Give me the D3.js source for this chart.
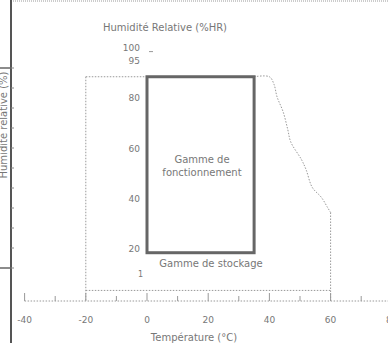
<!DOCTYPE html>
<html>
<head>
<meta charset="utf-8">
<script src="https://cdn.jsdelivr.net/npm/d3@7"></script>
<style>
  body { margin: 0; background: #fff; }
  svg { display: block; font-family: "DejaVu Sans", sans-serif; }
  text { fill: #777; }
</style>
</head>
<body>
<div id="chart"></div>
<script>
// data
var tempTicks = [-40, -20, 0, 20, 40, 60, 80];
var tempMinor = [-40, -30, -20, -10, 0, 10, 20, 30, 40, 50, 60, 70];
var rhTicks = [100, 95, 80, 60, 40, 20];
var rhTickLabels = ["100", "95", "80", "60", "40", "20"];
var rhLowLabel = "1";
var rhLowValue = 10;

// operating range: temp 0..35 C, RH 20..90 %
var operTemp = [0, 35];
var operRH = [20, 90];

// storage range: -20..60 C, 5..90 %RH
var storageTemp = [-20, 60];
var storageRH = [5, 90];
// top-right corner of the storage range, limited by dew point
var dewTemp = [35, 40, 41.5, 42.5, 44.5, 46, 47, 50.5, 52, 54, 57, 59, 60];
var dewRH   = [90, 90, 87,   82,   76,   69, 64, 57,   53, 46, 42, 38, 36];

var outerTicks = [0, 100];
var outerMinor = [0, 10, 20, 30, 40, 50, 60, 70, 80, 90, 100];

var vWidth = 388, vHeight = 343;

var svg = d3.select("#chart")
    .append("svg")
    .attr("width", vWidth)
    .attr("height", vHeight);

// scales
var x = d3.scaleLinear().domain([-40, 80]).range([24.6, 391.8]);
var y = d3.scaleLinear().domain([0, 100]).range([303, 51.6]);
var yOuter = d3.scaleLinear().domain([0, 100]).range([268, 68]);

var dotted = "1.5,1.5";

// frame bits at the top and left
svg.append("line")
    .attr("x1", 11).attr("x2", vWidth)
    .attr("y1", 1).attr("y2", 1)
    .attr("stroke", "#999").attr("stroke-dasharray", "1,1");

var gOuter = svg.append("g").attr("transform", "translate(11,0)");
gOuter.append("line")
    .attr("y1", 0).attr("y2", vHeight)
    .attr("stroke", "#555").attr("stroke-width", 2);
gOuter.selectAll(".omaj").data(outerTicks).enter()
    .append("line")
    .attr("x1", -11).attr("x2", 0)
    .attr("y1", function (d) { return yOuter(d); })
    .attr("y2", function (d) { return yOuter(d); })
    .attr("stroke", "#666").attr("stroke-width", 1.5);
gOuter.selectAll(".omin").data(outerMinor).enter()
    .append("line")
    .attr("x1", 0).attr("x2", 3)
    .attr("y1", function (d) { return yOuter(d); })
    .attr("y2", function (d) { return yOuter(d); })
    .attr("stroke", "#888");
svg.append("text")
    .attr("transform", "translate(7,125) rotate(-90)")
    .attr("text-anchor", "middle")
    .style("font-size", "10px")
    .text("Humidité relative (%)");

// title
svg.append("text")
    .attr("x", 165).attr("y", 31)
    .attr("text-anchor", "middle")
    .style("font-size", "10px")
    .text("Humidité Relative (%HR)");

// storage outline (dotted): left, top, bottom, right edges
var gStore = svg.append("g")
    .attr("fill", "none")
    .attr("stroke", "#999")
    .attr("stroke-dasharray", dotted);
gStore.append("line")
    .attr("x1", x(storageTemp[0])).attr("x2", x(storageTemp[0]))
    .attr("y1", y(storageRH[1])).attr("y2", 301);
gStore.append("line")
    .attr("x1", x(storageTemp[0])).attr("x2", x(dewTemp[0]))
    .attr("y1", y(storageRH[1])).attr("y2", y(storageRH[1]));
gStore.append("line")
    .attr("x1", x(storageTemp[0])).attr("x2", x(storageTemp[1]))
    .attr("y1", y(storageRH[0])).attr("y2", y(storageRH[0]));
gStore.append("line")
    .attr("x1", x(storageTemp[1])).attr("x2", x(storageTemp[1]))
    .attr("y1", y(dewRH[dewRH.length - 1])).attr("y2", 301);

var dewPts = dewTemp.map(function (t, i) { return [t, dewRH[i]]; });
gStore.append("path")
    .datum(dewPts)
    .attr("d", d3.line()
        .x(function (d) { return x(d[0]); })
        .y(function (d) { return y(d[1]); })
        .curve(d3.curveCatmullRom));

// x axis (dotted) along the bottom
var xAxis = svg.append("g").attr("transform", "translate(0,301)");
xAxis.append("line")
    .attr("x1", x(-40)).attr("x2", vWidth)
    .attr("stroke", "#999").attr("stroke-dasharray", dotted);
xAxis.selectAll(".xt").data(tempMinor).enter()
    .append("line")
    .attr("x1", function (d) { return x(d); })
    .attr("x2", function (d) { return x(d); })
    .attr("y1", 0).attr("y2", function (d) { return d % 20 === 0 ? -8 : -5; })
    .attr("stroke", "#999");
xAxis.selectAll(".xl").data(tempTicks).enter()
    .append("text")
    .attr("x", function (d) { return x(d); })
    .attr("y", 22)
    .attr("text-anchor", "middle")
    .style("font-size", "9px")
    .text(function (d) { return d; });
svg.append("text")
    .attr("x", 194).attr("y", 341)
    .attr("text-anchor", "middle")
    .style("font-size", "10px")
    .text("Température (°C)");

// y tick labels
svg.selectAll(".yl").data(rhTicks).enter()
    .append("text")
    .attr("x", 140)
    .attr("y", function (d) { return y(d) - 0.5; })
    .attr("text-anchor", "end")
    .style("font-size", "9px")
    .text(function (d, i) { return rhTickLabels[i]; });
svg.append("text")
    .attr("x", 143).attr("y", y(rhLowValue) - 1)
    .attr("text-anchor", "end")
    .style("font-size", "8px")
    .text(rhLowLabel);
svg.append("line")
    .attr("x1", 149).attr("x2", 153)
    .attr("y1", y(100)).attr("y2", y(100))
    .attr("stroke", "#999");

// operating range rectangle
svg.append("rect")
    .attr("x", x(operTemp[0]))
    .attr("y", y(operRH[1]))
    .attr("width", x(operTemp[1]) - x(operTemp[0]))
    .attr("height", y(operRH[0]) - y(operRH[1]))
    .attr("fill", "none")
    .attr("stroke", "#666")
    .attr("stroke-width", 3);

svg.append("text")
    .attr("x", 202).attr("y", 163)
    .attr("text-anchor", "middle")
    .style("font-size", "10px")
    .text("Gamme de");
svg.append("text")
    .attr("x", 202).attr("y", 176)
    .attr("text-anchor", "middle")
    .style("font-size", "10px")
    .text("fonctionnement");
svg.append("text")
    .attr("x", 211).attr("y", 267)
    .attr("text-anchor", "middle")
    .style("font-size", "10px")
    .text("Gamme de stockage");
</script>
</body>
</html>
